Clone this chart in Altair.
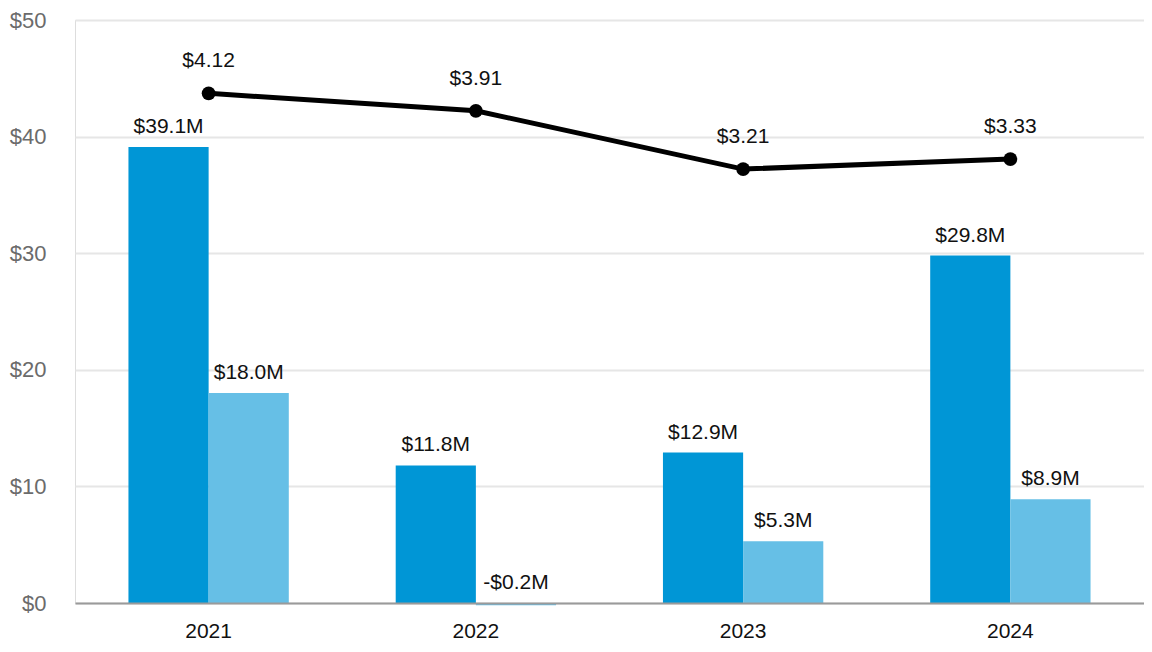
import altair as alt
import pandas as pd

years = ["2021", "2022", "2023", "2024"]
operating_income = [39.1, 11.8, 12.9, 29.8]
net_income = [18.0, -0.2, 5.3, 8.9]
eps = [4.12, 3.91, 3.21, 3.33]
series_names = ["Operating income", "Net income"]
series_colors = ["#0096D6", "#66BFE6"]

FONT = "Liberation Sans"

bars_df = pd.DataFrame({
    "year": years * 2,
    "series": [series_names[0]] * 4 + [series_names[1]] * 4,
    "value": operating_income + net_income,
})
eps_df = pd.DataFrame({"year": years, "eps": eps})

x_scale = alt.Scale(domain=years, paddingInner=0.4, paddingOuter=0.2)
x_enc = alt.X("year:N", scale=x_scale, sort=years,
              axis=alt.Axis(title=None, labelAngle=0, ticks=False,
                            domainColor="#9a9a9a", domainWidth=2,
                            labelColor="#111111", labelFontSize=21,
                            labelBaseline="alphabetic",
                            labelPadding=34, labelFont=FONT, zindex=1))
xo_enc = alt.XOffset("series:N", sort=series_names,
                     scale=alt.Scale(domain=series_names))
y_main = alt.Scale(domain=[0, 50], nice=False)

bars = alt.Chart(bars_df).mark_bar().encode(
    x=x_enc,
    xOffset=xo_enc,
    y=alt.Y("value:Q", scale=y_main,
            axis=alt.Axis(title=None, values=[0, 10, 20, 30, 40, 50],
                          labelExpr="'$' + datum.value", domain=False,
                          ticks=False, gridColor="#e6e6e6", gridWidth=2,
                          labelColor="#6b6b6b", labelFontSize=22,
                          labelPadding=29, labelFont=FONT)),
    color=alt.Color("series:N", sort=series_names,
                    scale=alt.Scale(domain=series_names, range=series_colors),
                    legend=None),
)

bar_text = alt.Chart(bars_df).transform_calculate(
    pos="max(datum.value, 0)",
    label="(datum.value < 0 ? '-' : '') + '$' + format(abs(datum.value), '.1f') + 'M'",
).mark_text(baseline="alphabetic", dy=-14, fontSize=21, font=FONT,
            color="#111111").encode(
    x=alt.X("year:N", scale=x_scale, sort=years),
    xOffset=xo_enc,
    y=alt.Y("pos:Q", scale=y_main),
    text="label:N",
)

y_eps = alt.Scale(domain=[-2, 5], nice=False)
line = alt.Chart(eps_df).mark_line(color="#000000", strokeWidth=5).encode(
    x=alt.X("year:N", scale=x_scale, sort=years),
    y=alt.Y("eps:Q", scale=y_eps, axis=None),
)
points = alt.Chart(eps_df).mark_circle(color="#000000", size=190, opacity=1).encode(
    x=alt.X("year:N", scale=x_scale, sort=years),
    y=alt.Y("eps:Q", scale=y_eps, axis=None),
)
eps_text = alt.Chart(eps_df).transform_calculate(
    label="'$' + format(datum.eps, '.2f')"
).mark_text(baseline="alphabetic", dy=-26, fontSize=21, font=FONT,
            color="#111111").encode(
    x=alt.X("year:N", scale=x_scale, sort=years),
    y=alt.Y("eps:Q", scale=y_eps, axis=None),
    text="label:N",
)

chart = alt.layer(
    alt.layer(bars, bar_text),
    alt.layer(line, points, eps_text),
).resolve_scale(y="independent").properties(
    width=1069, height=583,
    autosize=alt.AutoSizeParams(type="none"),
    padding={"left": 67, "top": 12, "right": 0, "bottom": 39},
).configure_view(stroke=None).configure(font=FONT)

chart.save("out.html", embed_options={"renderer": "svg", "actions": False})
